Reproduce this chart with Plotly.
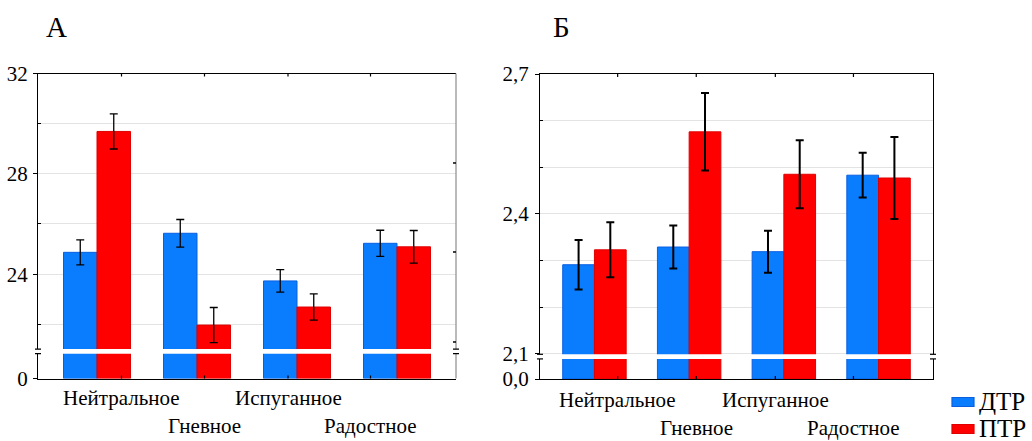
import plotly.graph_objects as go

# ---------------- data ----------------
categories = ["Нейтральное", "Гневное", "Испуганное", "Радостное"]
series_names = ["ДТР", "ПТР"]

# Panel А
a_dtr = [24.87, 25.63, 23.73, 25.23]
a_dtr_err = [0.50, 0.55, 0.45, 0.52]
a_ptr = [29.69, 21.97, 22.69, 25.09]
a_ptr_err = [0.70, 0.70, 0.52, 0.65]

# Panel Б
b_dtr = [2.291, 2.329, 2.319, 2.483]
b_dtr_err = [0.053, 0.046, 0.045, 0.048]
b_ptr = [2.323, 2.576, 2.485, 2.477]
b_ptr_err = [0.059, 0.083, 0.073, 0.088]

# axis ticks (broken axes: the bottom tick stands for zero)
a_tickvals = [24, 28, 32]
a_ticktext = ["24", "28", "32"]
a_minor = [22, 26, 30]
b_tickvals = [2.1, 2.4, 2.7]
b_ticktext = ["2,1", "2,4", "2,7"]
b_minor = [2.2, 2.3, 2.5, 2.6]
zero_label_a = "0"
zero_label_b = "0,0"

# ---------------- layout constants ----------------
A_MIN, A_MAX, A_BREAK = 19.84, 32.0, 20.92
B_MIN, B_MAX, B_BREAK = 2.046, 2.7, 2.094

FONT = "'Liberation Serif', 'Times New Roman', 'DejaVu Serif', serif"
BLUE, BLUE_EDGE = "#0a7dff", "#0a5fe0"
RED, RED_EDGE = "#ff0000", "#e00000"
label_offsets = [0.245, 0.075, -0.09, -0.265]
label_rows = [0, 1, 0, 1]
right_border_ticks_a = [0.7066, 0.4148, 0.1197]   # decorative ticks on grey frame (domain fractions)

W, H = 1032, 441
def px_x(p):
    return p / W
def px_y(p):
    return 1 - p / H

fig = go.Figure()

panels = [
    dict(xa="x", ya="y", vals=[a_dtr, a_ptr], errs=[a_dtr_err, a_ptr_err],
         base=A_MIN, thick=1.3),
    dict(xa="x2", ya="y2", vals=[b_dtr, b_ptr], errs=[b_dtr_err, b_ptr_err],
         base=B_MIN, thick=2.0),
]
for p in panels:
    for name, vals, errs, col, edge in zip(series_names, p["vals"], p["errs"],
                                            [BLUE, RED], [BLUE_EDGE, RED_EDGE]):
        fig.add_trace(go.Bar(
            x=categories, y=[v - p["base"] for v in vals], base=p["base"],
            name=name, showlegend=False, legendgroup=name,
            marker=dict(color=col, line=dict(color=edge, width=1)),
            error_y=dict(type="data", array=errs, visible=True, color="black",
                         thickness=p["thick"], width=4),
            xaxis=p["xa"], yaxis=p["ya"], offsetgroup=name,
        ))

axis_common_x = dict(showticklabels=False, ticks="", showline=True, linecolor="black",
                     linewidth=1.2, mirror=True, showgrid=False, zeroline=False,
                     type="category", automargin=False)
fig.update_layout(
    width=W, height=H, margin=dict(l=0, r=0, t=0, b=0, autoexpand=False),
    paper_bgcolor="white", plot_bgcolor="white",
    barmode="group", bargap=0.33, bargroupgap=0,
    font=dict(family=FONT, size=21, color="black"),
    showlegend=False,
    xaxis=dict(domain=[px_x(38), px_x(456)], range=[-0.59, 3.59], anchor="y", **axis_common_x),
    xaxis2=dict(domain=[px_x(540), px_x(933)], range=[-0.575, 3.575], anchor="y2", **axis_common_x),
    yaxis=dict(domain=[px_y(378.5), px_y(73.5)], range=[A_MIN, A_MAX], anchor="x",
               automargin=False,
               tickmode="array", tickvals=[A_MIN] + a_tickvals,
               ticktext=[zero_label_a] + a_ticktext,
               ticks="outside", ticklen=4, tickcolor="black", ticklabelstandoff=1,
               showline=True, linecolor="black", linewidth=1.2, mirror=False,
               showgrid=True, gridcolor="#e3e3e3", zeroline=False,
               minor=dict(tickmode="array", tickvals=a_minor, ticks="inside", ticklen=3,
                          tickcolor="black", showgrid=True, gridcolor="#e3e3e3"),
               tickfont=dict(size=21, family=FONT)),
    yaxis2=dict(domain=[px_y(379), px_y(74)], range=[B_MIN, B_MAX], anchor="x2",
                automargin=False,
                tickmode="array", tickvals=[B_MIN] + b_tickvals,
                ticktext=[zero_label_b] + b_ticktext,
                ticks="outside", ticklen=4, tickcolor="black", ticklabelstandoff=2,
                showline=True, linecolor="black", linewidth=1.2, mirror=True,
                showgrid=True, gridcolor="#e3e3e3", zeroline=False,
                minor=dict(tickmode="array", tickvals=b_minor, ticks="inside", ticklen=3,
                           tickcolor="black", showgrid=True, gridcolor="#e3e3e3"),
                tickfont=dict(size=21, family=FONT)),
)

shapes = []
# grey right border of panel А with its small inward ticks
shapes.append(dict(type="line", xref="x domain", yref="y domain", x0=1, x1=1, y0=0, y1=1,
                   line=dict(color="#8c8c8c", width=1.2), layer="above"))
for fy in right_border_ticks_a:
    shapes.append(dict(type="line", xref="x domain", yref="y domain",
                       xsizemode="pixel", xanchor=1, x0=-3, x1=0, y0=fy, y1=fy,
                       line=dict(color="black", width=1.5), layer="above"))
# inward x ticks at the label positions, on bottom and top frame lines
for xr, yr in [("x", "y"), ("x2", "y2")]:
    for i, off in enumerate(label_offsets):
        for ya, (d0, d1) in [(0, (0, 3)), (1, (-3, 0))]:
            shapes.append(dict(type="line", xref=xr, yref=f"{yr} domain",
                               x0=i + off, x1=i + off,
                               ysizemode="pixel", yanchor=ya, y0=d0, y1=d1,
                               line=dict(color="black", width=1.2), layer="above"))
# axis breaks
for xr, yr, brk in [("x", "y", A_BREAK), ("x2", "y2", B_BREAK)]:
    shapes.append(dict(type="rect", xref=f"{xr} domain", yref=yr,
                       x0=-0.02, x1=1.02, ysizemode="pixel", yanchor=brk, y0=-2.4, y1=2.4,
                       fillcolor="white", line=dict(width=0), layer="above"))
    for xa in (0, 1):
        for dy in (-2.3, 2.3):
            shapes.append(dict(type="line", xref=f"{xr} domain", yref=yr,
                               xsizemode="pixel", xanchor=xa, x0=-3, x1=3,
                               ysizemode="pixel", yanchor=brk, y0=dy, y1=dy,
                               line=dict(color="black", width=1.2), layer="above"))
# legend swatches
legend_rows_px = [402, 429]
for (name, col, edge), ypx in zip(zip(series_names, [BLUE, RED], [BLUE_EDGE, RED_EDGE]),
                                  legend_rows_px):
    shapes.append(dict(type="rect", xref="paper", yref="paper",
                       x0=px_x(952), x1=px_x(974), y0=px_y(ypx + 4.5), y1=px_y(ypx - 4.5),
                       fillcolor=col, line=dict(color=edge, width=1.2)))
fig.update_layout(shapes=shapes)

annotations = []
row_y = {("x", 0): 398, ("x", 1): 426, ("x2", 0): 400, ("x2", 1): 428}
for xr in ("x", "x2"):
    for i, (cat, off, row) in enumerate(zip(categories, label_offsets, label_rows)):
        annotations.append(dict(x=i + off, xref=xr, y=px_y(row_y[(xr, row)]), yref="paper",
                                text=cat, showarrow=False, xanchor="center", yanchor="middle",
                                font=dict(size=21, family=FONT, color="black")))
for name, ypx in zip(series_names, legend_rows_px):
    annotations.append(dict(x=px_x(977), y=px_y(ypx - 1), xref="paper", yref="paper",
                            text=name, showarrow=False, xanchor="left", yanchor="middle",
                            font=dict(size=25, family=FONT, color="black")))
annotations.append(dict(x=px_x(56), y=px_y(27), xref="paper", yref="paper", text="А",
                        showarrow=False, xanchor="center", yanchor="middle",
                        font=dict(size=29, family=FONT, color="black")))
annotations.append(dict(x=px_x(561), y=px_y(27), xref="paper", yref="paper", text="Б",
                        showarrow=False, xanchor="center", yanchor="middle",
                        font=dict(size=29, family=FONT, color="black")))
fig.update_layout(annotations=annotations)

fig.write_html("out.html")
